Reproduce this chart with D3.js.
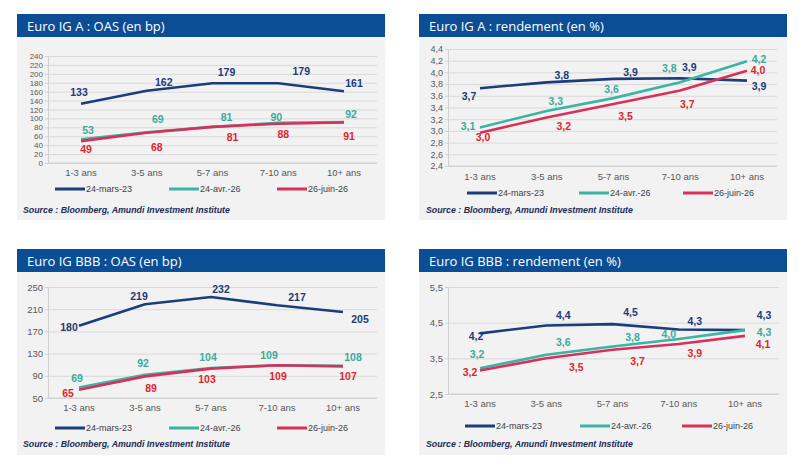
<!DOCTYPE html>
<html>
<head>
<meta charset="utf-8">
<script src="https://cdn.jsdelivr.net/npm/d3@7"></script>
<style>
  body { margin: 0; background: #ffffff; }
  svg { display: block; }
  .tick text { font-family: "Liberation Sans", Arial, sans-serif; }
</style>
</head>
<body>
<div class="chart"></div>
<script>
// ---- data ----
var categories = ["1-3 ans", "3-5 ans", "5-7 ans", "7-10 ans", "10+ ans"];
var seriesNames = ["24-mars-23", "24-avr.-26", "26-juin-26"];

// Euro IG A : OAS (bp)
var oasA_mar23 = [133, 162, 179, 179, 161];
var oasA_avr26 = [53, 69, 81, 90, 92];
var oasA_juin26 = [49, 68, 81, 88, 91];

// Euro IG A : rendement (%)
var yldA_mar23 = [3.73, 3.83, 3.89, 3.90, 3.86];
var yldA_avr26 = [3.06, 3.34, 3.56, 3.83, 4.19];
var yldA_juin26 = [2.97, 3.23, 3.46, 3.69, 4.03];

// Euro IG BBB : OAS (bp)
var oasBBB_mar23 = [180, 219, 232, 217, 205];
var oasBBB_avr26 = [69, 92, 104, 109, 108];
var oasBBB_juin26 = [65, 89, 103, 109, 107];

// Euro IG BBB : rendement (%)
var yldBBB_mar23 = [4.20, 4.42, 4.46, 4.31, 4.29];
var yldBBB_avr26 = [3.22, 3.60, 3.83, 4.04, 4.29];
var yldBBB_juin26 = [3.16, 3.50, 3.74, 3.90, 4.13];

// tick values
var ticksOasA = d3.range(0, 241, 20);
var ticksYldA = d3.range(24, 45, 2).map(d => d / 10);
var ticksOasBBB = d3.range(50, 251, 40);
var ticksYldBBB = [2.5, 3.5, 4.5, 5.5];

var colors = ["#1c3d7c", "#3db3a2", "#d9305a"];
var labelColors = ["#1c3a78", "#3aab9b", "#e0252f"];

// ---- layout ----
var svg = d3.select(".chart").append("svg")
    .attr("width", 800)
    .attr("height", 471);

var fmtInt = d => String(d);
var fmtDec = d => d.toFixed(1).replace(".", ",");

var panels = [
  {
    title: "Euro IG A : OAS (en bp)",
    series: [oasA_mar23, oasA_avr26, oasA_juin26],
    ticks: ticksOasA, tickFmt: fmtInt, labelFmt: fmtInt, tickSize: 8,
    box: {x: 17, y: 14, w: 368, bottom: 220},
    plot: {left: 48, right: 377, top: 56, bottom: 163, first: 81, last: 344},
    xLabelY: 176, legendY: 189, legendX: [55, 169, 277], sourceX: 23, sourceY: 213,
    dx: [[-2, 17, 14, 23, 10], [7, 11, 14, -2, 7], [5, 10, 20, 5, 5]],
    dy: [[-11, -8.5, -11, -12, -8.5], [-9, -13, -10, -6, -8], [8, 15, 10, 10.5, 14]]
  },
  {
    title: "Euro IG A : rendement (en %)",
    series: [yldA_mar23, yldA_avr26, yldA_juin26],
    ticks: ticksYldA, tickFmt: fmtDec, labelFmt: fmtDec, tickSize: 9,
    box: {x: 419, y: 14, w: 368, bottom: 220},
    plot: {left: 448, right: 777, top: 49, bottom: 166, first: 480, last: 747},
    xLabelY: 180, legendY: 193, legendX: [467, 579, 683], sourceX: 426, sourceY: 213,
    dx: [[-11, 15, 17, 9, 12], [-12, 9, -2, -11, 12], [3, 17, 12, 7, 11]],
    dy: [[8.5, -7, -7, -11.5, 5.5], [-1.5, -9.5, -9, -14, -2], [5, 9, 12, 14, 0]]
  },
  {
    title: "Euro IG BBB : OAS (en bp)",
    series: [oasBBB_mar23, oasBBB_avr26, oasBBB_juin26],
    ticks: ticksOasBBB, tickFmt: fmtInt, labelFmt: fmtInt, tickSize: 9.5,
    box: {x: 17, y: 249, w: 368, bottom: 455},
    plot: {left: 48, right: 377, top: 287, bottom: 398, first: 79, last: 343},
    xLabelY: 411, legendY: 428, legendX: [55, 169, 277], sourceX: 23, sourceY: 447,
    dx: [[-10, -6, 10, 20, 17], [-2, -2, -3, -8, 10], [-11, 6, -4, 1, 5]],
    dy: [[1.5, -8, -8, -8, 7], [-9, -11, -11, -10, -8.5], [4, 12, 11, 11, 10]]
  },
  {
    title: "Euro IG BBB : rendement (en %)",
    series: [yldBBB_mar23, yldBBB_avr26, yldBBB_juin26],
    ticks: ticksYldBBB, tickFmt: fmtDec, labelFmt: fmtDec, tickSize: 9.5,
    box: {x: 419, y: 249, w: 368, bottom: 455},
    plot: {left: 448, right: 779, top: 287, bottom: 394, first: 480, last: 745},
    xLabelY: 407, legendY: 426, legendX: [465, 580, 682], sourceX: 426, sourceY: 447,
    dx: [[-4, 17, 18, 16, 19], [-3, 17, 20, -10, 19], [-10, 30, 25, 16, 18]],
    dy: [[3, -10, -12, -8, -14.5], [-14, -13, -9, -5, 2.5], [2, 9, 11, 9, 8]]
  }
];

panels.forEach(drawPanel);

function drawPanel(p) {
  var g = svg.append("g");
  var headerH = 23;

  // panel background + header bar
  g.append("rect")
      .attr("x", p.box.x).attr("y", p.box.y + headerH)
      .attr("width", p.box.w).attr("height", p.box.bottom - p.box.y - headerH)
      .attr("fill", "#f2f2f2");
  g.append("rect")
      .attr("x", p.box.x).attr("y", p.box.y)
      .attr("width", p.box.w).attr("height", headerH)
      .attr("fill", "#0b4e95");
  g.append("text")
      .attr("x", p.box.x + 10).attr("y", p.box.y + 16.5)
      .attr("fill", "#ffffff")
      .style("font-family", "'Open Sans', 'Noto Sans', sans-serif")
      .style("font-size", "13px")
      .text(p.title);

  // scales
  var x = d3.scalePoint()
      .domain(categories)
      .range([p.plot.first, p.plot.last]);
  var y = d3.scaleLinear()
      .domain(d3.extent(p.ticks))
      .range([p.plot.bottom, p.plot.top]);

  // gridlines
  g.append("g")
      .attr("transform", `translate(${p.plot.left},0)`)
      .call(d3.axisLeft(y).tickValues(p.ticks).tickSize(-(p.plot.right - p.plot.left)).tickFormat(""))
      .call(a => a.select(".domain").remove())
      .call(a => a.selectAll("line").attr("stroke", "#d9d9d9"));

  // y axis labels
  g.append("g")
      .attr("transform", `translate(${p.plot.left},0)`)
      .call(d3.axisLeft(y).tickValues(p.ticks).tickSize(3).tickPadding(2).tickFormat(p.tickFmt))
      .call(a => a.select(".domain").attr("stroke", "#d0d0d0"))
      .call(a => a.selectAll(".tick line").attr("stroke", "#d0d0d0"))
      .call(a => a.selectAll("text").attr("fill", "#595959").style("font-size", p.tickSize + "px"));

  // x axis line + labels
  g.append("line")
      .attr("x1", p.plot.left).attr("x2", p.plot.right)
      .attr("y1", p.plot.bottom).attr("y2", p.plot.bottom)
      .attr("stroke", "#d0d0d0");
  g.selectAll(".xlab")
      .data(categories)
      .enter().append("text")
      .attr("class", "xlab")
      .attr("x", d => x(d))
      .attr("y", p.xLabelY)
      .attr("text-anchor", "middle")
      .attr("fill", "#595959")
      .style("font-family", "'Liberation Sans', Arial, sans-serif")
      .style("font-size", "9.5px")
      .text(d => d);

  // lines
  var line = d3.line()
      .x((d, i) => x(categories[i]))
      .y(d => y(d));

  p.series.forEach(function (vals, s) {
    g.append("path")
        .datum(vals)
        .attr("d", line)
        .attr("fill", "none")
        .attr("stroke", colors[s])
        .attr("stroke-width", 2.6)
        .attr("stroke-linejoin", "round");
  });

  // data labels
  p.series.forEach(function (vals, s) {
    g.selectAll(".lab" + s)
        .data(vals)
        .enter().append("text")
        .attr("class", "lab" + s)
        .attr("x", (d, i) => x(categories[i]) + p.dx[s][i])
        .attr("y", (d, i) => y(d) + p.dy[s][i])
        .attr("dy", "0.36em")
        .attr("text-anchor", "middle")
        .attr("fill", labelColors[s])
        .style("font-family", "'Liberation Sans', Arial, sans-serif")
        .style("font-size", "10.5px")
        .style("font-weight", "bold")
        .text(d => p.labelFmt(d));
  });

  // legend
  seriesNames.forEach(function (name, s) {
    var lx = p.legendX[s];
    g.append("line")
        .attr("x1", lx).attr("x2", lx + 30)
        .attr("y1", p.legendY).attr("y2", p.legendY)
        .attr("stroke", colors[s])
        .attr("stroke-width", 3);
    g.append("text")
        .attr("x", lx + 31).attr("y", p.legendY)
        .attr("dy", "0.35em")
        .attr("fill", "#404040")
        .style("font-family", "'Liberation Sans', Arial, sans-serif")
        .style("font-size", "9px")
        .text(name);
  });

  // source
  g.append("text")
      .attr("x", p.sourceX).attr("y", p.sourceY)
      .attr("fill", "#1a2b57")
      .style("font-family", "'Liberation Sans', Arial, sans-serif")
      .style("font-size", "8.8px")
      .style("font-weight", "bold")
      .style("font-style", "italic")
      .text("Source : Bloomberg, Amundi Investment Institute");
}
</script>
</body>
</html>
